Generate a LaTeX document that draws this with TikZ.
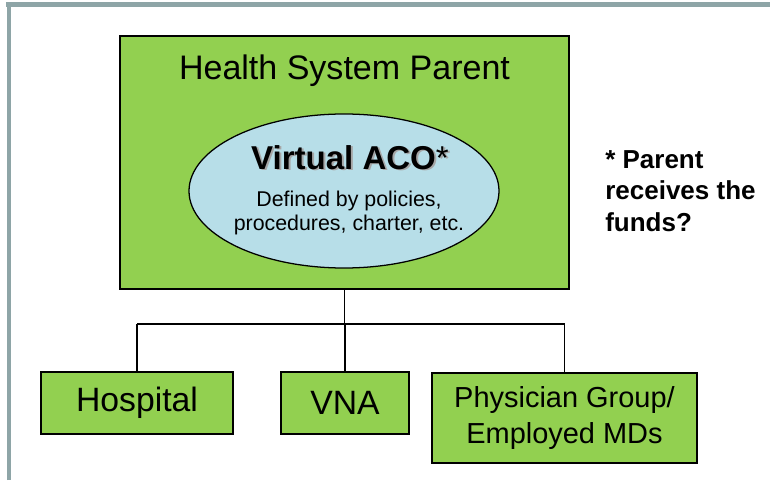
\documentclass[tikz,border=0pt]{standalone}
\usepackage{fontspec}
\setmainfont{Liberation Sans}
\usetikzlibrary{shapes.geometric}
\definecolor{boxgreen}{RGB}{146,208,80}
\definecolor{acoblue}{RGB}{183,222,232}
\definecolor{framegray}{RGB}{142,165,167}

\begin{document}
\begin{tikzpicture}[
    orgbox/.style={draw=black, line width=1.4pt, fill=boxgreen, inner sep=0pt, align=center},
    link/.style={draw=black, line width=1.4pt}
]
    \useasboundingbox (0,0) rectangle (19.25,12);

    % Gray frame along the top and the left edge
    \draw[framegray, line width=2.9pt] (0.225,0) -- (0.225,11.95);
    \draw[framegray, line width=3.6pt] (0.15,11.8875) -- (19.25,11.8875);

    % Parent box with its title
    \node[orgbox, minimum width=11.225cm, minimum height=6.325cm] (parent) at (8.6125,7.9375) {};
    \node[anchor=base, font=\fontsize{24.2}{29}\selectfont] (parenttitle) at (8.6125,10) {Health System Parent};

    % Virtual ACO ellipse inside the parent
    \node[ellipse, draw=black, line width=0.9pt, fill=acoblue, inner sep=0pt, minimum width=7.75cm, minimum height=3.85cm] (aco) at (8.6,7.225) {};
    \node[anchor=base, text=black!35, font=\fontsize{23.5}{28}\selectfont] (acoshadow) at (8.8,7.73) {\bfseries Virtual ACO\mdseries*}; % Soft shadow behind the title
    \node[anchor=base, font=\fontsize{23.5}{28}\selectfont] (acotitle) at (8.75,7.775) {\bfseries Virtual ACO\mdseries*};
    \node[align=center, font=\fontsize{15.2}{16.7}\selectfont] (acodesc) at (8.725,6.675) {Defined by policies,\\procedures, charter, etc.};

    % Note on the right
    \node[anchor=north west, align=left, inner sep=0pt, font=\bfseries\fontsize{18.5}{22.4}\selectfont] (fundsnote) at (15.125,8.25) {* Parent\\receives the\\funds?};

    % Child boxes
    \node[orgbox, minimum width=4.8cm, minimum height=1.55cm, font=\fontsize{24}{29}\selectfont] (hospital) at (3.425,1.925) {Hospital};
    \node[orgbox, minimum width=3.2cm, minimum height=1.55cm, font=\fontsize{24}{29}\selectfont] (vna) at (8.625,1.925) {VNA};
    \node[orgbox, minimum width=6.625cm, minimum height=2.25cm, font=\fontsize{20.6}{25.6}\selectfont] (physician) at (14.1125,1.55) {Physician Group/\\Employed MDs};

    % Tree connectors from the parent down to each child
    \coordinate (bus) at (8.625,3.9);
    \draw[link] (parent.south) -- (parent.south |- bus);
    \draw[link] (hospital.north |- bus) -- (physician.north |- bus);
    \foreach \child in {hospital, vna, physician} {
        \draw[link] (\child.north |- bus) -- (\child.north);
    }
\end{tikzpicture}
\end{document}
